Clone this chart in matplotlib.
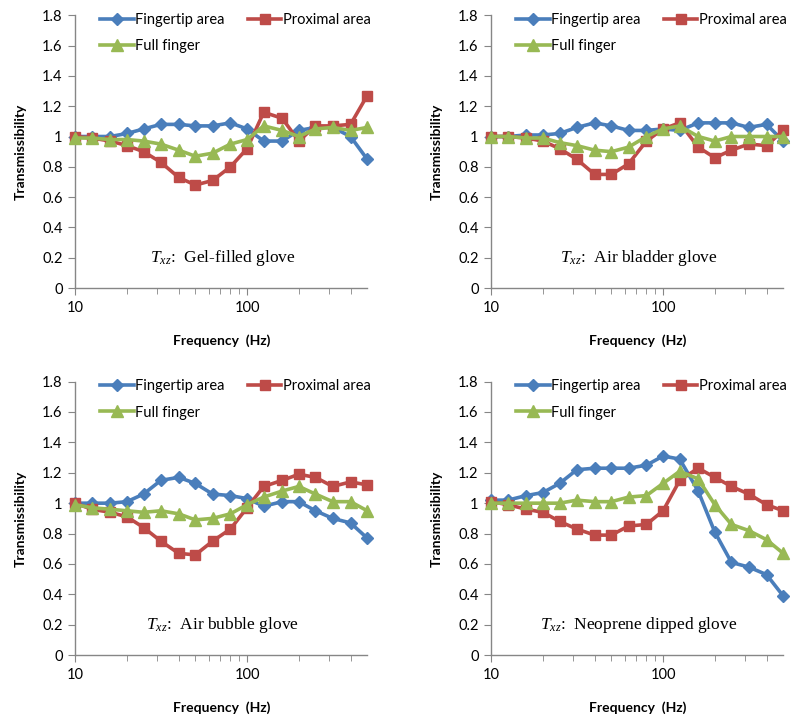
import matplotlib.pyplot as plt
from matplotlib.ticker import FixedLocator, NullFormatter

plt.rcParams['font.family'] = ['Lato', 'DejaVu Sans']
plt.rcParams['mathtext.fontset'] = 'custom'
plt.rcParams['mathtext.rm'] = 'Liberation Serif'
plt.rcParams['mathtext.it'] = 'Liberation Serif:italic'

# 1/3 octave band centre frequencies (Hz)
freq = [10, 12.5, 16, 20, 25, 31.5, 40, 50, 63, 80, 100, 125, 160, 200, 250, 315, 400, 500]

# --- Gel-filled glove ---
gel_tip = [1.00, 1.00, 1.00, 1.02, 1.05, 1.08, 1.08, 1.07, 1.07, 1.09, 1.05, 0.97, 0.97, 1.04, 1.06, 1.06, 1.00, 0.85]
gel_prox = [1.00, 0.99, 0.97, 0.94, 0.90, 0.83, 0.73, 0.68, 0.71, 0.80, 0.92, 1.16, 1.12, 0.97, 1.07, 1.07, 1.08, 1.27]
gel_full = [0.99, 0.99, 0.98, 0.98, 0.97, 0.95, 0.91, 0.87, 0.89, 0.95, 0.98, 1.07, 1.04, 1.00, 1.05, 1.06, 1.04, 1.06]

# --- Air bladder glove ---
bladder_tip = [1.00, 1.00, 1.01, 1.01, 1.02, 1.06, 1.09, 1.07, 1.04, 1.04, 1.05, 1.04, 1.09, 1.09, 1.09, 1.06, 1.08, 0.97]
bladder_prox = [1.00, 1.00, 0.99, 0.97, 0.92, 0.85, 0.75, 0.75, 0.82, 0.97, 1.05, 1.09, 0.93, 0.86, 0.91, 0.95, 0.94, 1.04]
bladder_full = [1.00, 1.00, 0.99, 0.99, 0.96, 0.94, 0.91, 0.90, 0.93, 1.00, 1.05, 1.07, 1.00, 0.97, 1.00, 1.00, 1.00, 1.00]

# --- Air bubble glove ---
bubble_tip = [1.00, 1.00, 1.00, 1.01, 1.06, 1.15, 1.17, 1.13, 1.06, 1.05, 1.03, 0.98, 1.01, 1.01, 0.95, 0.90, 0.87, 0.77]
bubble_prox = [1.00, 0.96, 0.94, 0.91, 0.84, 0.75, 0.67, 0.66, 0.75, 0.83, 0.97, 1.11, 1.15, 1.19, 1.17, 1.11, 1.14, 1.12]
bubble_full = [0.99, 0.97, 0.96, 0.95, 0.94, 0.95, 0.93, 0.89, 0.90, 0.93, 0.99, 1.04, 1.08, 1.11, 1.06, 1.01, 1.01, 0.95]

# --- Neoprene dipped glove ---
neo_tip = [1.02, 1.02, 1.05, 1.07, 1.13, 1.22, 1.23, 1.23, 1.23, 1.25, 1.31, 1.29, 1.08, 0.81, 0.61, 0.58, 0.53, 0.39]
neo_prox = [1.01, 0.99, 0.96, 0.94, 0.88, 0.83, 0.79, 0.79, 0.85, 0.86, 0.95, 1.15, 1.23, 1.17, 1.11, 1.06, 0.99, 0.95]
neo_full = [1.00, 1.00, 1.00, 1.00, 1.00, 1.02, 1.01, 1.01, 1.04, 1.05, 1.13, 1.21, 1.16, 0.99, 0.86, 0.82, 0.76, 0.67]

panels = [
    ("Gel-filled glove", gel_tip, gel_prox, gel_full),
    ("Air bladder glove", bladder_tip, bladder_prox, bladder_full),
    ("Air bubble glove", bubble_tip, bubble_prox, bubble_full),
    ("Neoprene dipped glove", neo_tip, neo_prox, neo_full),
]

BLUE, RED, GREEN = "#4A7EBB", "#BE4B48", "#98B954"
SPINE = "#868686"

# axes rectangles in figure fractions (left, bottom, width, height)
rects = [
    (0.094, 0.602, 0.365, 0.377),
    (0.614, 0.602, 0.365, 0.377),
    (0.094, 0.095, 0.365, 0.378),
    (0.614, 0.095, 0.365, 0.378),
]

fig = plt.figure(figsize=(8, 7.24), dpi=100)

for (name, tip, prox, full), rect in zip(panels, rects):
    ax = fig.add_axes(rect)
    l1, = ax.plot(freq, tip, color=BLUE, lw=2.6, marker="D", ms=6.5, clip_on=False, zorder=3)
    l2, = ax.plot(freq, prox, color=RED, lw=2.6, marker="s", ms=6.5, clip_on=False, zorder=3)
    l3, = ax.plot(freq, full, color=GREEN, lw=2.6, marker="^", ms=8, clip_on=False, zorder=3)

    ax.set_xscale("log")
    ax.set_xlim(10, 500)
    ax.set_ylim(0, 1.8)
    ax.xaxis.set_major_locator(FixedLocator([10, 100]))
    ax.xaxis.set_minor_locator(FixedLocator([20, 30, 40, 50, 60, 70, 80, 90, 200, 300, 400]))
    ax.xaxis.set_minor_formatter(NullFormatter())
    ax.set_xticklabels(["10", "100"])
    yt = [0, 0.2, 0.4, 0.6, 0.8, 1.0, 1.2, 1.4, 1.6, 1.8]
    ax.set_yticks(yt)
    ax.set_yticklabels([f"{v:g}" for v in yt])

    for s in ["top", "right"]:
        ax.spines[s].set_visible(False)
    for s in ["left", "bottom"]:
        ax.spines[s].set_color(SPINE)
        ax.spines[s].set_linewidth(1.0)
    ax.tick_params(axis="both", which="major", length=5, color=SPINE, labelsize=10.5, pad=4)
    ax.tick_params(axis="x", which="minor", length=4, color=SPINE)

    ax.set_xlabel("Frequency  (Hz)", fontsize=10, fontweight="bold", labelpad=14)
    ax.set_ylabel("Transmissibility", fontsize=10, fontweight="bold", labelpad=11)

    ax.legend([l1, l3, l2], ["Fingertip area", "Full finger", "Proximal area"],
              ncol=2, loc="upper left", bbox_to_anchor=(0.065, 1.03), frameon=False,
              fontsize=10.5, handlelength=2.3, handletextpad=0.1, columnspacing=1.6,
              labelspacing=0.85, borderaxespad=0)

    ax.text(72, 0.2, r"$T_{xz}$:  " + name, ha="center", va="center",
            fontsize=12.5, family="Liberation Serif")

fig.savefig("out.png", dpi=100)
